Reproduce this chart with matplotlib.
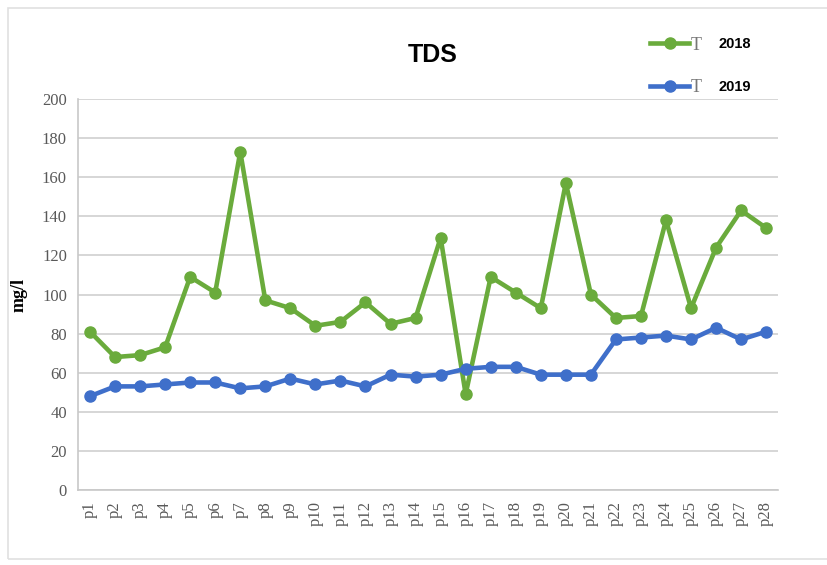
import numpy as np
import matplotlib.pyplot as plt
from matplotlib.patches import Rectangle

# data
points = ["p%d" % i for i in range(1, 29)]
tds_2018 = [81, 68, 69, 73, 109, 101, 173, 97, 93, 84, 86, 96, 85, 88,
            129, 49, 109, 101, 93, 157, 100, 88, 89, 138, 93, 124, 143, 134]
tds_2019 = [48, 53, 53, 54, 55, 55, 52, 53, 57, 54, 56, 53, 59, 58,
            59, 62, 63, 63, 59, 59, 59, 77, 78, 79, 77, 83, 77, 81]
years = ["2018", "2019"]
y_ticks = list(range(0, 201, 20))

green = "#6aab3c"
blue = "#3f6fca"
grey_txt = "#595959"

fig = plt.figure(figsize=(8.27, 5.65), dpi=100)
ax = fig.add_axes([0.0943, 0.1327, 0.8467, 0.6921])

x = np.arange(len(points))
l1, = ax.plot(x, tds_2018, color=green, lw=3.3, marker="o", ms=8)
l2, = ax.plot(x, tds_2019, color=blue, lw=3.3, marker="o", ms=8)

ax.set_xlim(-0.48, len(points) - 1 + 0.48)
ax.set_ylim(0, 200)
ax.set_yticks(y_ticks)
ax.set_xticks(x)
ax.set_xticklabels(points, rotation=90, family="Liberation Serif",
                   fontsize=12, color=grey_txt)
ax.set_yticklabels([str(v) for v in y_ticks], family="Liberation Serif",
                   fontsize=12, color=grey_txt)
ax.tick_params(length=0, pad=8)
ax.grid(axis="y", color="#d0d0d0", lw=1.2)
ax.set_axisbelow(True)
for s in ["top", "right"]:
    ax.spines[s].set_visible(False)
for s in ["left", "bottom"]:
    ax.spines[s].set_color("#c8c8c8")
    ax.spines[s].set_linewidth(1.2)

ax.set_ylabel("mg/l", family="Liberation Serif", fontweight="bold",
              fontsize=13, labelpad=10)

fig.text(0.523, 0.902, "TDS", ha="center", va="center",
         family="Liberation Sans", fontweight="bold", fontsize=18)

leg = fig.legend([l1, l2], years, loc="upper left",
                 bbox_to_anchor=(0.77, 0.958), frameon=False,
                 handlelength=2.7, handletextpad=2.0, labelspacing=2.0,
                 prop={"family": "Liberation Sans", "weight": "bold",
                       "size": 10.5})

# clipped "T" fragments next to the legend handles
fig.text(0.835, 0.919, "T", family="Liberation Serif", fontsize=13,
         color="#777777", ha="left", va="center")
fig.text(0.835, 0.845, "T", family="Liberation Serif", fontsize=13,
         color="#777777", ha="left", va="center")

# light frame around the chart
fig.patches.append(Rectangle((0.01, 0.01), 1.1, 0.975, transform=fig.transFigure,
                             fill=False, edgecolor="#e0e0e0", lw=1.2))

fig.savefig("out.png", dpi=100)
